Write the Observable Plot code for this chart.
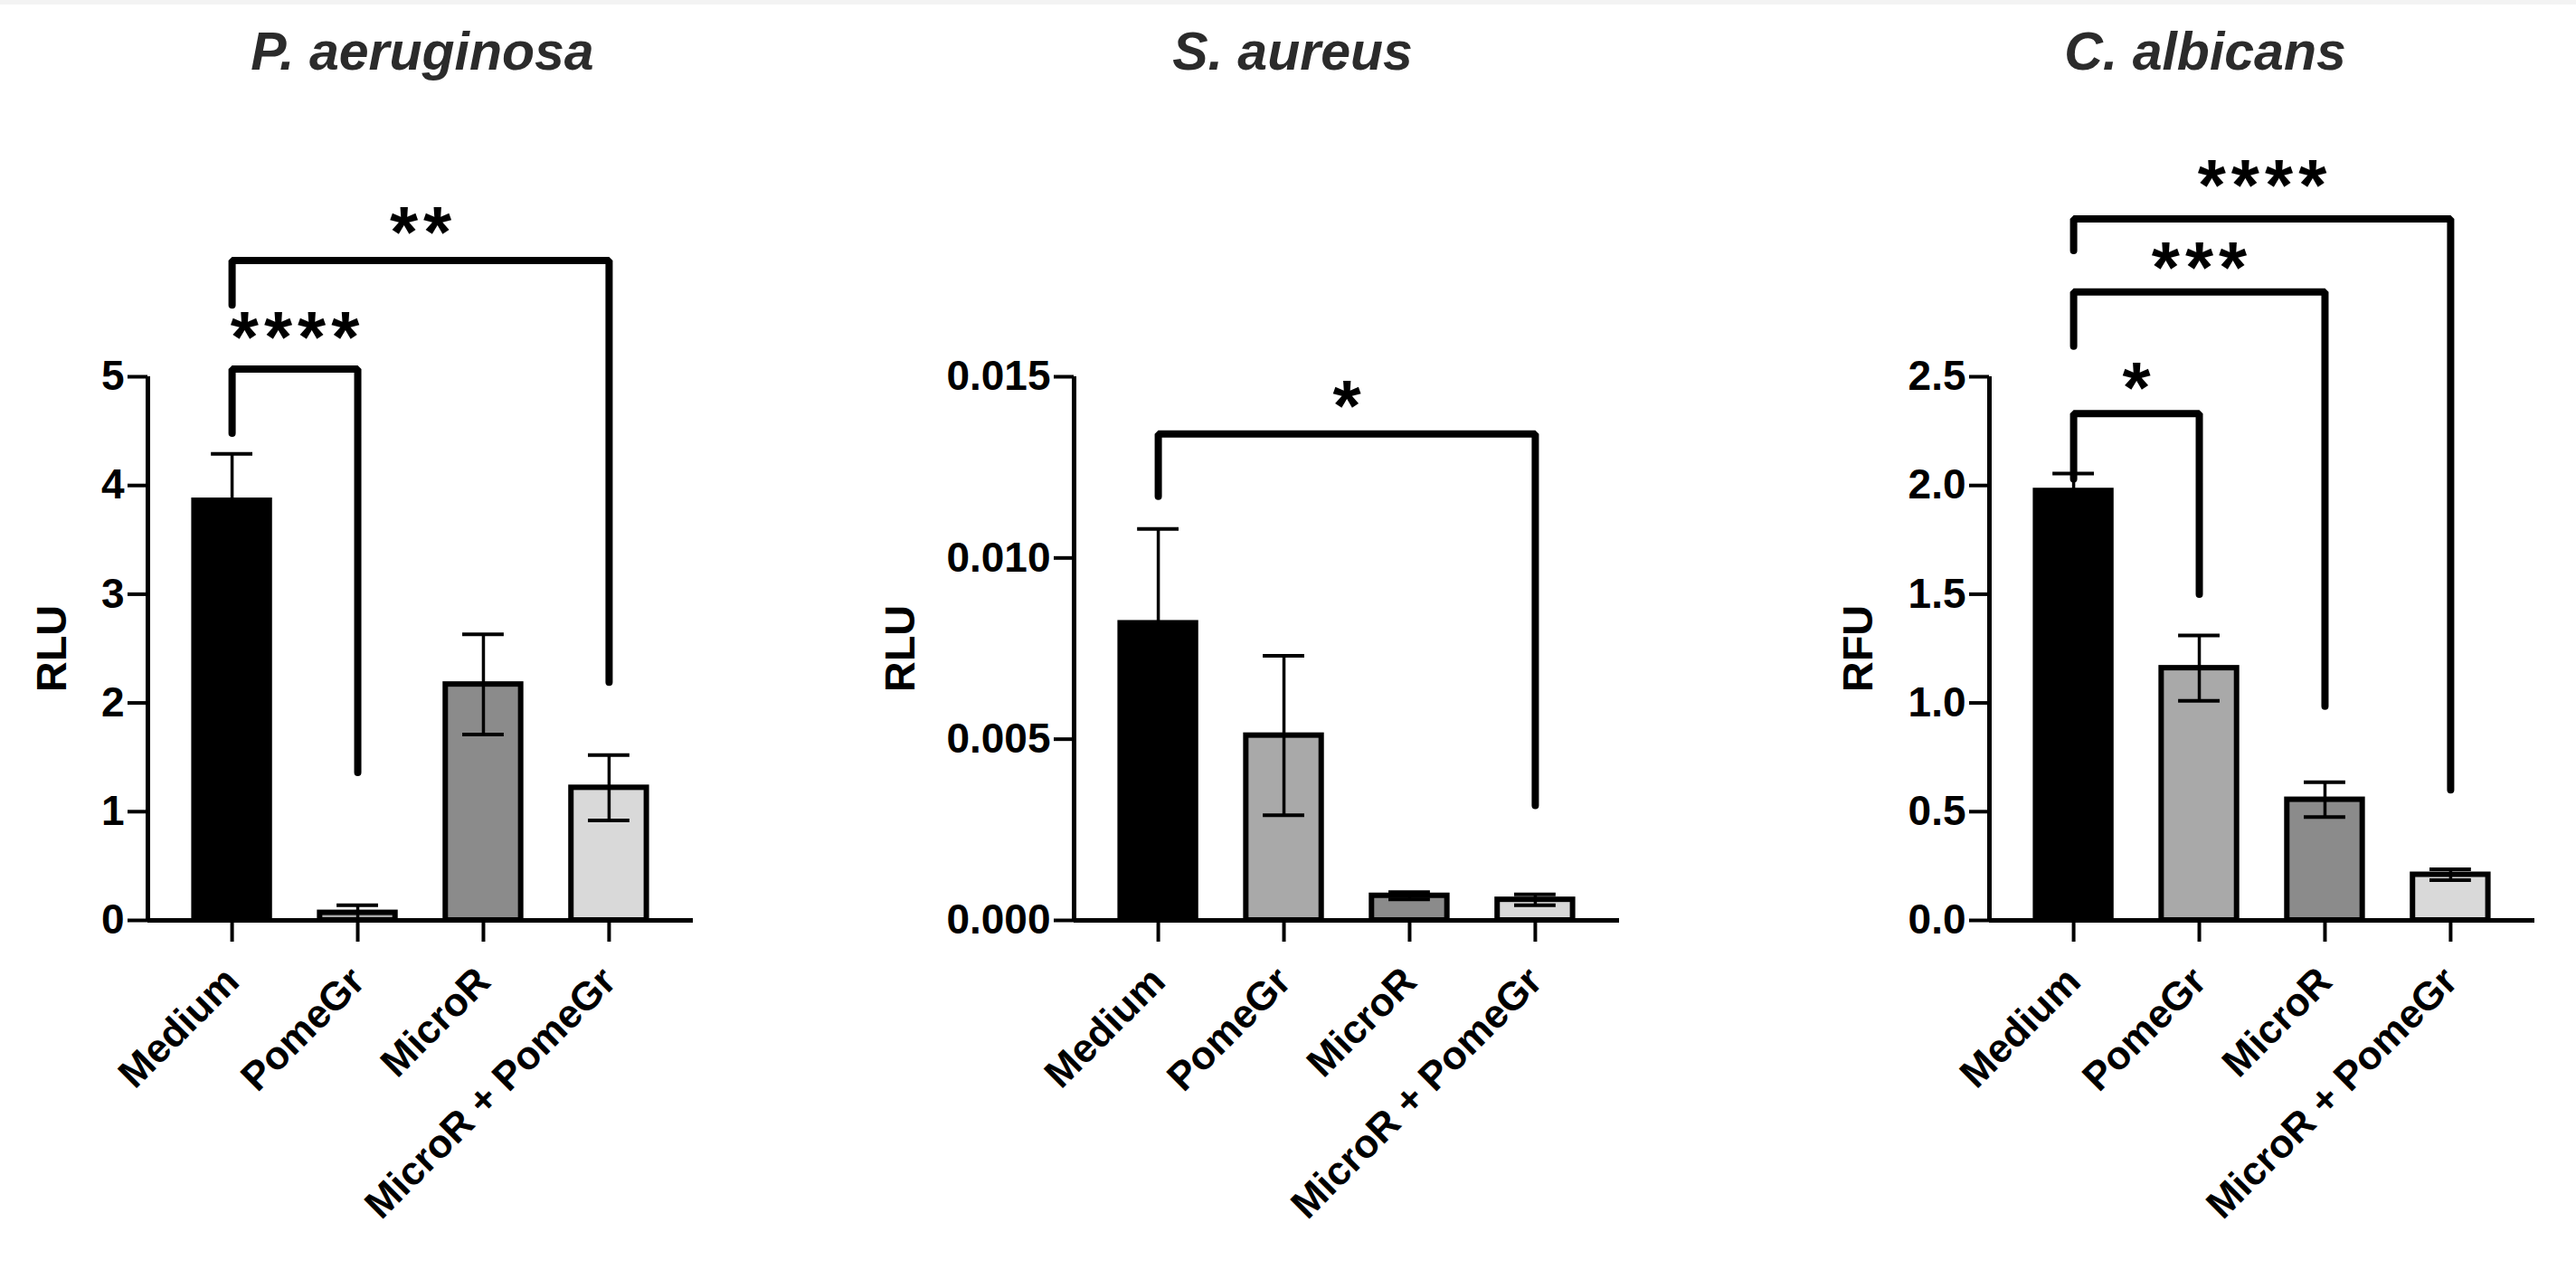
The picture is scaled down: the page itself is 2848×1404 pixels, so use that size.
<!DOCTYPE html>
<html>
<head>
<meta charset="utf-8">
<script src="https://cdn.jsdelivr.net/npm/d3@7"></script>
<script src="https://cdn.jsdelivr.net/npm/@observablehq/plot@0.6"></script>
<style>
  html, body { margin: 0; padding: 0; background: #fff; }
  #page { position: relative; width: 2848px; height: 1404px; background: #fff; overflow: hidden; font-family: "Liberation Sans", Arial, sans-serif; }
  .topline { position: absolute; left: 0; top: 0; width: 2848px; height: 5px; background: #f3f3f3; }
  .title { position: absolute; top: 28px; font-size: 59px; line-height: 1; font-weight: bold; font-style: italic; color: #2b2b2b; transform: translateX(-50%); white-space: nowrap; }
  .panel { position: absolute; top: 100px; }
  .panel svg { overflow: visible; }
  .panel g[font-size="80"] text { letter-spacing: 6px; }
</style>
</head>
<body>
<div id="page"><div class="topline"></div></div>
<script>
// ---- data ----
const groups = ["Medium", "PomeGr", "MicroR", "MicroR + PomeGr"];
const barFills = ["#000000", "#a9a9a9", "#8b8b8b", "#d9d9d9"];

const titles = ["P. aeruginosa", "S. aureus", "C. albicans"];
const yLabels = ["RLU", "RLU", "RFU"];

const paeMean = [3.86, 0.07, 2.17, 1.22];
const paeErr  = [0.43, 0.07, 0.46, 0.30];
const sauMean = [0.0082, 0.0051, 0.00068, 0.00057];
const sauErr  = [0.0026, 0.0022, 0.00010, 0.00015];
const calMean = [1.975, 1.16, 0.555, 0.21];
const calErr  = [0.08, 0.15, 0.08, 0.025];

const paeTicks = [0, 1, 2, 3, 4, 5];
const sauTicks = [0, 0.005, 0.010, 0.015];
const calTicks = [0, 0.5, 1.0, 1.5, 2.0, 2.5];

// significance brackets: from group, to group, bracket top, left leg end, right leg end, star height, label
const paeBrackets = [
  {from: 0, to: 1, top: 5.07, leftEnd: 4.48, rightEnd: 1.36, starY: 5.44, label: "****"},
  {from: 0, to: 3, top: 6.07, leftEnd: 5.66, rightEnd: 2.19, starY: 6.41, label: "**"}
];
const sauBrackets = [
  {from: 0, to: 3, top: 0.01342, leftEnd: 0.0117, rightEnd: 0.00317, starY: 0.01443, label: "*"}
];
const calBrackets = [
  {from: 0, to: 1, top: 2.33, leftEnd: 2.03, rightEnd: 1.50, starY: 2.49, label: "*"},
  {from: 0, to: 2, top: 2.89, leftEnd: 2.64, rightEnd: 0.985, starY: 3.04, label: "***"},
  {from: 0, to: 3, top: 3.226, leftEnd: 3.08, rightEnd: 0.60, starY: 3.42, label: "****"}
];

// ---- layout ----
const panels = [
  {mean: paeMean, err: paeErr, ticks: paeTicks, fmt: d3.format("d"), domain: [0, 5], brackets: paeBrackets, axisX: 163, titleX: 467, labelDx: -106},
  {mean: sauMean, err: sauErr, ticks: sauTicks, fmt: d3.format(".3f"), domain: [0, 0.015], brackets: sauBrackets, axisX: 1187, titleX: 1429, labelDx: -192},
  {mean: calMean, err: calErr, ticks: calTicks, fmt: d3.format(".1f"), domain: [0, 2.5], brackets: calBrackets, axisX: 2199, titleX: 2438, labelDx: -145}
];

const M_LEFT = 220, M_RIGHT = 40, M_TOP = 316, M_BOTTOM = 340;
const PLOT_W = 603, PLOT_H = 601;
const X_DOMAIN = [-0.67, 3.67];
const HALF_BAR = 0.3, HALF_CAP = 0.165;

const page = document.getElementById("page");

panels.forEach((p, k) => {
  const data = groups.map((g, i) => ({g, i, v: p.mean[i], e: p.err[i], fill: barFills[i]}));
  const bracketPts = p.brackets.flatMap((b, j) => [
    {j, x: b.from, y: b.leftEnd},
    {j, x: b.from, y: b.top},
    {j, x: b.to, y: b.top},
    {j, x: b.to, y: b.rightEnd}
  ]);

  const svg = Plot.plot({
    width: M_LEFT + PLOT_W + M_RIGHT,
    height: M_TOP + PLOT_H + M_BOTTOM,
    marginLeft: M_LEFT, marginRight: M_RIGHT, marginTop: M_TOP, marginBottom: M_BOTTOM,
    x: {type: "linear", domain: X_DOMAIN},
    y: {domain: p.domain},
    color: {type: "identity"},
    style: {fontFamily: "'Liberation Sans', Arial, sans-serif", fontWeight: "bold", color: "#000", background: "transparent", overflow: "visible"},
    marks: [
      Plot.rectY(data, {x1: d => d.i - HALF_BAR, x2: d => d.i + HALF_BAR, y1: 0, y2: "v", fill: "fill", stroke: "#000", strokeWidth: 6}),
      Plot.ruleX(data, {x: "i", y1: d => Math.max(0, d.v - d.e), y2: d => d.v + d.e, stroke: "#000", strokeWidth: 3.5}),
      Plot.ruleY(data, {y: d => d.v + d.e, x1: d => d.i - HALF_CAP, x2: d => d.i + HALF_CAP, stroke: "#000", strokeWidth: 4}),
      Plot.ruleY(data.filter(d => d.v - d.e > 0), {y: d => d.v - d.e, x1: d => d.i - HALF_CAP, x2: d => d.i + HALF_CAP, stroke: "#000", strokeWidth: 4}),
      Plot.ruleX([X_DOMAIN[0]], {y1: p.domain[0], y2: p.domain[1], stroke: "#000", strokeWidth: 5}),
      Plot.ruleY([0], {stroke: "#000", strokeWidth: 5}),
      Plot.axisY({ticks: p.ticks, tickFormat: p.fmt, tickSize: 22, tickPadding: 4, fontSize: 46, fontWeight: "bold", strokeWidth: 4, label: null}),
      Plot.axisX({ticks: [0, 1, 2, 3], tickFormat: i => groups[i], tickRotate: -45, tickSize: 24, tickPadding: 36, fontSize: 44, fontWeight: "bold", strokeWidth: 4, label: null}),
      Plot.text([yLabels[k]], {frameAnchor: "left", textAnchor: "middle", rotate: -90, dx: p.labelDx, fontSize: 47, fontWeight: "bold", fill: "#000"}),
      Plot.line(bracketPts, {x: "x", y: "y", z: "j", stroke: "#000", strokeWidth: 8, strokeLinejoin: "miter", strokeLinecap: "round"}),
      Plot.text(p.brackets, {x: d => (d.from + d.to) / 2, y: "starY", text: "label", fontSize: 80, fontWeight: "bold", fill: "#000", dx: 3, dy: 11})
    ]
  });

  const div = document.createElement("div");
  div.className = "panel";
  div.style.left = (p.axisX - M_LEFT) + "px";
  div.appendChild(svg);
  page.appendChild(div);

  const t = document.createElement("div");
  t.className = "title";
  t.style.left = p.titleX + "px";
  t.textContent = titles[k];
  page.appendChild(t);
});
</script>
</body>
</html>
